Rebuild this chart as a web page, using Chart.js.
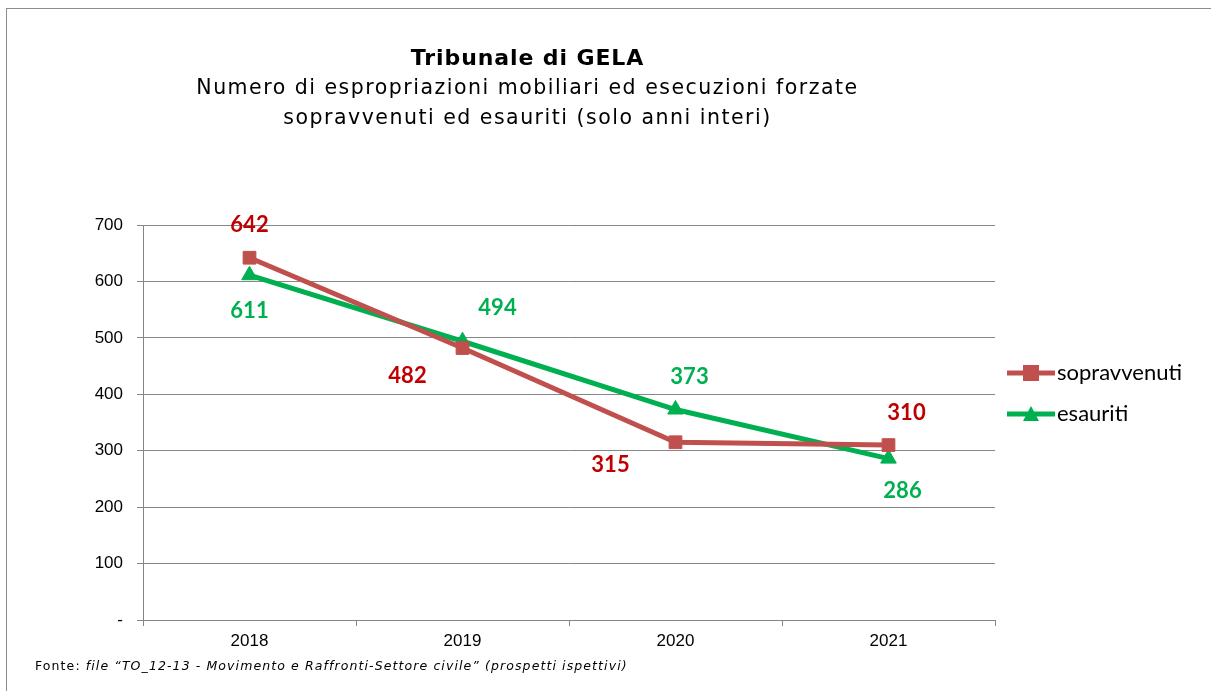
<!DOCTYPE html>
<html>
<head>
<meta charset="utf-8">
<script src="https://cdn.jsdelivr.net/npm/chart.js@4.4.0/dist/chart.umd.min.js"></script>
<style>
  html, body { margin: 0; padding: 0; background: #fff; }
  #wrap { position: relative; width: 1211px; height: 691px; overflow: hidden; }
  #frame { position: absolute; left: 6px; top: 8px; width: 1220px; height: 700px; border: 1px solid #8c8c8c; box-sizing: border-box; }
  #chart { position: absolute; left: 0; top: 0; }
  .title { position: absolute; left: 0; width: 1055px; text-align: center; font-family: "DejaVu Sans", Verdana, sans-serif; color: #000; }
  #t1 { top: 45px; font-size: 22px; font-weight: bold; letter-spacing: 0.9px; }
  #t2 { top: 72px; font-size: 20.5px; line-height: 30px; letter-spacing: 1.5px; }
  #note { position: absolute; left: 35px; top: 658px; font-family: "DejaVu Sans", Verdana, sans-serif; font-size: 12.5px; letter-spacing: 1.1px; color: #000; }
</style>
</head>
<body>
<div id="wrap">
  <div id="frame"></div>
  <canvas id="chart" width="1211" height="691"></canvas>
  <div class="title" id="t1">Tribunale di GELA</div>
  <div class="title" id="t2">Numero di espropriazioni mobiliari ed esecuzioni forzate<br>sopravvenuti ed esauriti (solo anni interi)</div>
  <div id="note">Fonte: <i>file “TO_12-13 - Movimento e Raffronti-Settore civile” (prospetti ispettivi)</i></div>
</div>
<script>
// dati
const anni = ['2018', '2019', '2020', '2021'];
const sopravvenuti = [642, 482, 315, 310];
const esauriti = [611, 494, 373, 286];
const yTicks = [0, 100, 200, 300, 400, 500, 600, 700];

// spostamento delle etichette rispetto al punto (px)
const offSopr = [[0, -33], [-55, 28], [-65, 23], [18, -32]];
const offEsau = [[0, 36], [35, -33], [14, -33], [14, 32]];

const serie = [
  { label: 'sopravvenuti', data: sopravvenuti, line: '#c0504d', text: '#c00000', style: 'rect', radius: 9, off: offSopr },
  { label: 'esauriti', data: esauriti, line: '#00b050', text: '#00b050', style: 'triangle', radius: 9, off: offEsau }
];

// etichette dei valori e legenda
const labelPlugin = {
  id: 'labels',
  afterDatasetsDraw(chart) {
    const ctx = chart.ctx;
    ctx.save();
    ctx.font = 'bold 22px Lato, "Open Sans", sans-serif';
    ctx.textAlign = 'center';
    ctx.textBaseline = 'middle';
    chart.data.datasets.forEach((ds, i) => {
      const meta = chart.getDatasetMeta(i);
      meta.data.forEach((pt, j) => {
        const o = serie[i].off[j];
        ctx.fillStyle = serie[i].text;
        ctx.fillText(ds.data[j], pt.x + o[0], pt.y + o[1]);
      });
    });

    // legenda
    serie.forEach((s, i) => {
      const y = 373 + i * 41;
      ctx.strokeStyle = s.line;
      ctx.lineWidth = 5;
      ctx.beginPath();
      ctx.moveTo(1007, y);
      ctx.lineTo(1055, y);
      ctx.stroke();
      ctx.fillStyle = s.line;
      ctx.beginPath();
      if (s.style === 'rect') {
        ctx.rect(1023, y - 8, 16, 16);
      } else {
        ctx.moveTo(1031, y - 8);
        ctx.lineTo(1039, y + 7);
        ctx.lineTo(1023, y + 7);
        ctx.closePath();
      }
      ctx.fill();
      ctx.fillStyle = '#000';
      ctx.textAlign = 'left';
      ctx.font = '22px Lato, "Open Sans", sans-serif';
      ctx.fillText(s.label, 1057, y);
    });
    ctx.restore();
  }
};

new Chart(document.getElementById('chart'), {
  type: 'line',
  data: {
    labels: anni,
    datasets: serie.map(s => ({
      label: s.label,
      data: s.data,
      borderColor: s.line,
      backgroundColor: s.line,
      borderWidth: 5,
      pointStyle: s.style,
      pointRadius: s.radius,
      pointHoverRadius: s.radius,
      pointBorderWidth: 1,
      tension: 0,
      fill: false
    }))
  },
  options: {
    responsive: false,
    animation: false,
    layout: { padding: { left: 0, top: 225, right: 216, bottom: 0 } },
    plugins: {
      legend: { display: false },
      title: { display: false },
      tooltip: { enabled: false }
    },
    scales: {
      x: {
        offset: true,
        afterFit: scale => { scale.height = 71; },
        grid: {
          offset: true,
          drawOnChartArea: false,
          color: '#868686',
          tickLength: 6
        },
        border: { color: '#868686', width: 1 },
        ticks: {
          color: '#000',
          padding: 5,
          font: { family: '"Liberation Sans", Arial, sans-serif', size: 17 }
        }
      },
      y: {
        min: 0,
        max: 700,
        afterFit: scale => { scale.width = 143; },
        afterBuildTicks: scale => { scale.ticks = yTicks.map(v => ({ value: v })); },
        grid: { color: '#868686', lineWidth: 1, tickLength: 6 },
        border: { color: '#868686', width: 1 },
        ticks: {
          color: '#000',
          padding: 14,
          font: { family: '"Liberation Sans", Arial, sans-serif', size: 17 },
          callback: v => v === 0 ? '-' : v
        }
      }
    }
  },
  plugins: [labelPlugin]
});
</script>
</body>
</html>
